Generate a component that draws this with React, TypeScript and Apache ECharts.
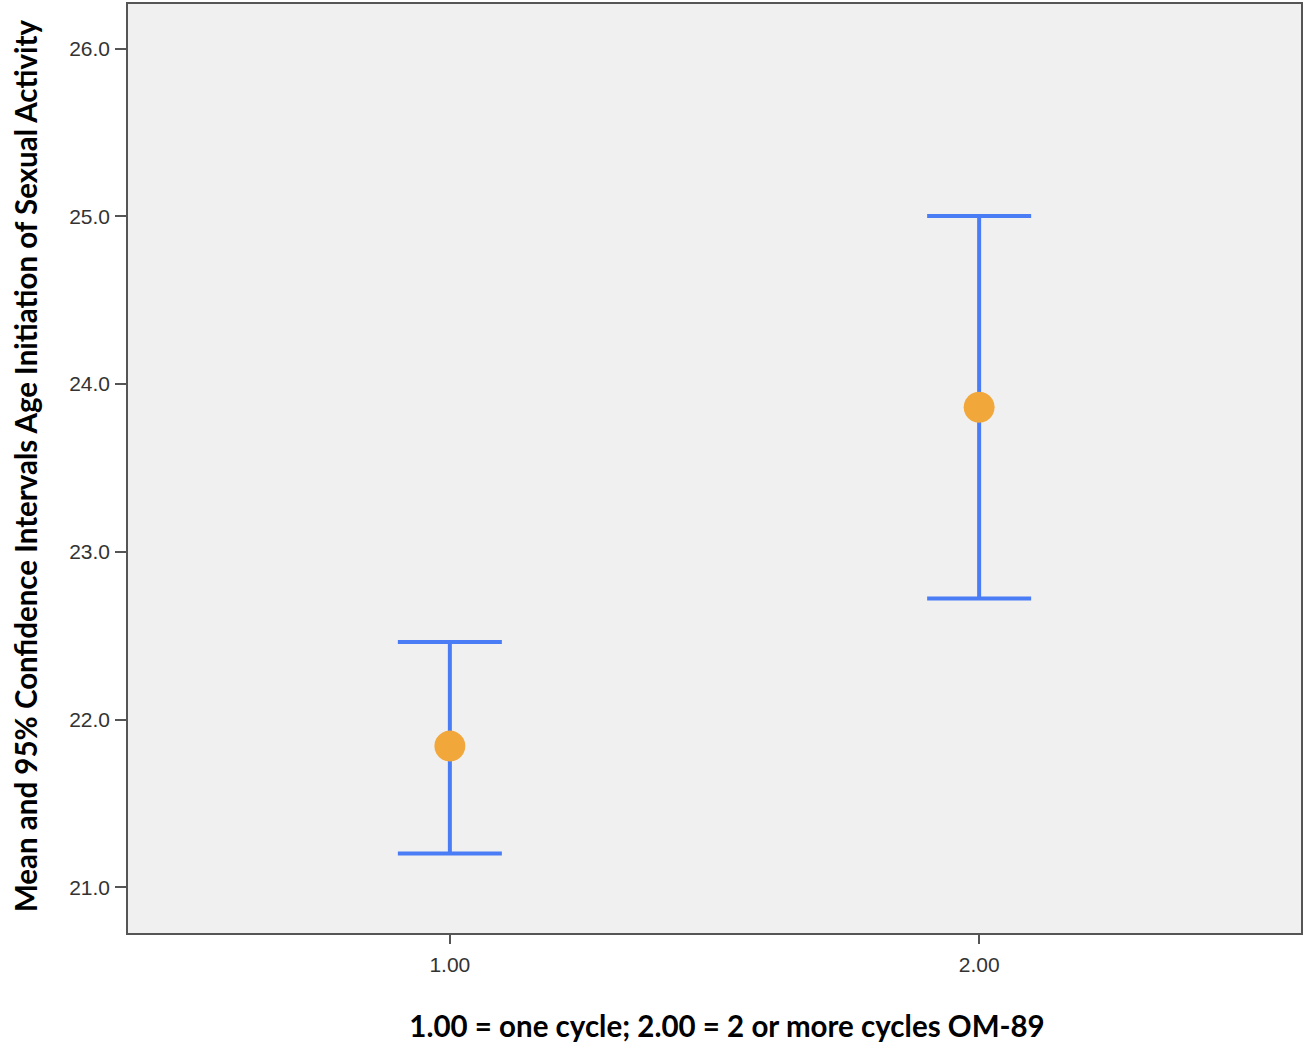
import React, { useEffect, useRef } from "react";
import * as echarts from "echarts";

const categories = [1, 2];
const means = [21.84, 23.86];
const lowerCI = [21.2, 22.72];
const upperCI = [22.46, 25.0];
const yTicks = [21, 22, 23, 24, 25, 26];
const xTicks = [1, 2];
const yTitle = "Mean and 95% Confidence Intervals Age Initiation of Sexual Activity";
const xTitle = "1.00 = one cycle; 2.00 = 2 or more cycles OM-89";

export default function App() {
  const ref = useRef<HTMLDivElement>(null);
  useEffect(() => {
    document.body.style.margin = "0";
    const chart = echarts.init(ref.current!, null, { renderer: "svg" });
    const barColor = "#4a7cf5";
    const errData = categories.map((c, i) => [c, lowerCI[i], upperCI[i]]);
    const meanData = categories.map((c, i) => [c, means[i]]);
    chart.setOption({
      animation: false,
      backgroundColor: "#ffffff",
      grid: {
        left: 127,
        top: 3,
        right: 12,
        bottom: 116,
        show: true,
        backgroundColor: "#f0f0f0",
        borderColor: "#555555",
        borderWidth: 2,
      },
      xAxis: {
        type: "value",
        min: 0.39,
        max: 2.61,
        splitLine: { show: false },
        axisLine: { show: true, onZero: false, lineStyle: { color: "#555555", width: 2 } },
        axisTick: { show: true, customValues: xTicks, length: 10, lineStyle: { color: "#555555", width: 2 } },
        axisLabel: {
          customValues: xTicks,
          formatter: (v: number) => v.toFixed(2),
          color: "#333333",
          fontSize: 21,
          fontFamily: "Liberation Sans",
          margin: 20,
        },
      },
      yAxis: {
        type: "value",
        min: 20.72,
        max: 26.27,
        splitLine: { show: false },
        axisLine: { show: true, onZero: false, lineStyle: { color: "#555555", width: 2 } },
        axisTick: { show: true, customValues: yTicks, length: 12, lineStyle: { color: "#555555", width: 2 } },
        axisLabel: {
          customValues: yTicks,
          formatter: (v: number) => v.toFixed(1),
          color: "#333333",
          fontSize: 21,
          fontFamily: "Liberation Sans",
          margin: 17,
        },
      },
      graphic: [
        {
          type: "text",
          x: 25,
          y: 466,
          rotation: Math.PI / 2,
          style: {
            text: yTitle,
            fontSize: 29.5,
            fontWeight: "bold",
            fontFamily: "Lato",
            fill: "#000000",
            align: "center",
            verticalAlign: "middle",
          },
        },
        {
          type: "text",
          x: 727,
          y: 1025,
          style: {
            text: xTitle,
            fontSize: 29.5,
            fontWeight: "bold",
            fontFamily: "Lato",
            fill: "#000000",
            align: "center",
            verticalAlign: "middle",
          },
        },
      ],
      series: [
        {
          type: "custom",
          data: errData,
          renderItem: (params: any, api: any) => {
            const x = api.value(0);
            const lo = api.coord([x, api.value(1)]);
            const hi = api.coord([x, api.value(2)]);
            const hw = 52;
            const style = { stroke: barColor, lineWidth: 4 };
            return {
              type: "group",
              children: [
                { type: "line", shape: { x1: lo[0], y1: lo[1], x2: hi[0], y2: hi[1] }, style },
                { type: "line", shape: { x1: hi[0] - hw, y1: hi[1], x2: hi[0] + hw, y2: hi[1] }, style },
                { type: "line", shape: { x1: lo[0] - hw, y1: lo[1], x2: lo[0] + hw, y2: lo[1] }, style },
              ],
            };
          },
          z: 2,
        },
        {
          type: "scatter",
          data: meanData,
          symbol: "circle",
          symbolSize: 31,
          itemStyle: { color: "#f2a73b", opacity: 1 },
          z: 3,
        },
      ],
    });
    return () => chart.dispose();
  }, []);
  return <div ref={ref} style={{ width: 1314, height: 1050 }} />;
}
